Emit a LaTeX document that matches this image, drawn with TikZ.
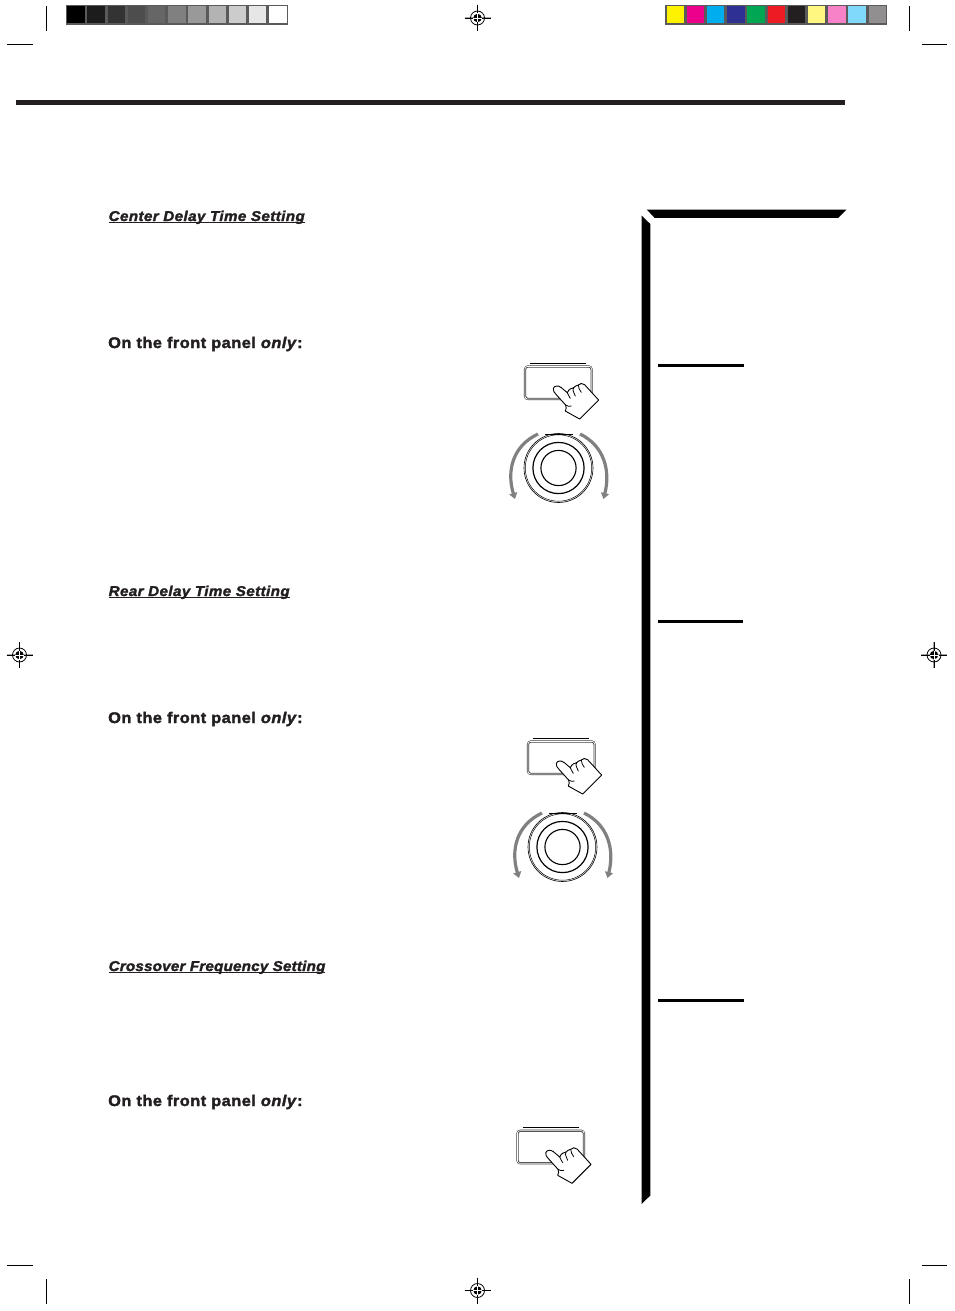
\documentclass[tikz,border=0pt]{standalone}
\usepackage{fontspec}
\setmainfont{Liberation Sans}
\usetikzlibrary{arrows.meta}
\definecolor{framegray}{HTML}{5A5A5A}
\definecolor{inkblack}{HTML}{231F20}
\definecolor{arrowgray}{HTML}{808080}
\tikzset{
  x=1pt,y=-1pt,
  headtext/.style={anchor=base west,inner sep=0pt,text=inkblack,font=\fontsize{14.2}{16}\selectfont\bfseries\itshape\addfontfeatures{LetterSpace=3,FakeStretch=1.065,FakeBold=2}},
  headtight/.style={anchor=base west,inner sep=0pt,text=inkblack,font=\fontsize{14.2}{16}\selectfont\bfseries\itshape\addfontfeatures{LetterSpace=1.7,FakeStretch=1.065,FakeBold=2}},
  paneltext/.style={anchor=base west,inner sep=0pt,text=inkblack,font=\fontsize{15.4}{18}\selectfont\bfseries\addfontfeatures{LetterSpace=3,FakeStretch=1.065,FakeBold=2}},
  crop/.style={draw=black,line width=0.9pt},
  rulebar/.style={fill=inkblack},
  shortrule/.style={fill=black},
  framebar/.style={fill=framegray},
  buttonpic/.pic={
    \draw[black,line width=0.9pt] (6,-2.5) -- (62,-2.5);
    \draw[line width=2.2pt,black!75,rounded corners=3pt] (0.7,0.7) rectangle (67.3,33.3);
    \draw[line width=0.7pt,white,rounded corners=2.5pt] (0.7,0.7) rectangle (67.3,33.3);
    % hand, given in 3x crop units
    \begin{scope}[x=0.3333pt,y=-0.3333pt,shift={(-102,-47)}]
    \filldraw[fill=white,draw=black,line width=0.9pt,line join=round]
      (225,183) -- (268,207) -- (325,150) -- (283,104)
      .. controls (277,99) and (268,99) .. (264,105)
      .. controls (259,106) and (253,109) .. (250,113)
      .. controls (244,113) and (235,118) .. (231,128)
      -- (212,112)
      .. controls (203,105) and (191,107) .. (189,116)
      .. controls (188,122) and (192,128) .. (198,134)
      -- (226,165)
      .. controls (229,172) and (228,176) .. (225,183) -- cycle;
    \draw[black,line width=0.8pt,line cap=round]
      (231,128) .. controls (233,134) and (237,139) .. (240,145)
      (248,120) .. controls (250,126) and (252,132) .. (255,138)
      (250,113) .. controls (248,116) and (248,118) .. (248,120)
      (264,105) .. controls (264,113) and (268,120) .. (273,127)
      (226,165) .. controls (232,169) and (238,170) .. (243,168);
    \end{scope}
  },
  knobpic/.pic={
    \draw[black,line width=0.9pt] (-13.5,-33.5) -- (14.5,-33.5);
    \draw[black,line width=0.6pt] (0,0) circle[radius=34.5];
    \draw[black,line width=0.5pt] (0,0) circle[radius=33.2];
    \draw[black,line width=1.2pt] (0,0) circle[radius=25.6];
    \draw[black,line width=1.1pt] (0,0) circle[radius=17.6];
    \draw[arrowgray,line width=3.2pt,-{Triangle[length=6pt,width=8pt]}]
      (-20.5,-34) .. controls (-46,-22) and (-52,3) .. (-43.5,31);
    \draw[arrowgray,line width=3.2pt,-{Triangle[length=6pt,width=8pt]}]
      (21.5,-34) .. controls (46,-22) and (52,3) .. (45,31);
  },
  regmark/.pic={
    \draw[black!35,line width=1.6pt] (0,-13) -- (0,13);
    \draw[black!35,line width=1.6pt] (-13,0) -- (13,0);
    \draw[black,line width=0.5pt] (-13,0) -- (13,0) (0,-13) -- (0,13);
    \fill[black] (0,0) circle[radius=4.2];
    \draw[white,line width=0.7pt] (-4.5,0) -- (4.5,0) (0,-4.5) -- (0,4.5);
    \draw[black,line width=0.8pt] (0,0) circle[radius=7];
  },
}
\begin{document}
\begin{tikzpicture}
\useasboundingbox (0,0) rectangle (954,1311);
\fill[white] (0,0) rectangle (954,1311);

% gray scale strip
\fill[framebar] (66,5) rectangle (288,25);
\foreach \a/\b/\c in {66.7/85/000000,87.3/105/1C1C1C,107.7/125/333333,128.3/145/4D4D4D,148.3/165/666666,168.3/186/808080,188.3/206/999999,209/226/B3B3B3,229/246/CCCCCC,249/266/E6E6E6,269/287.3/FFFFFF}{
  \definecolor{tmpc}{HTML}{\c}
  \fill[tmpc] (\a,6) rectangle (\b,23);
}
% colour strip
\fill[framebar] (665,5) rectangle (887,25);
\foreach \a/\b/\c in {667/684/FFF200,687/704/EC008C,707/724/00AEEF,727/745/2E3192,747/765/00A651,768/785/ED1C24,788/805/231F20,808/825/FFF77F,828/846/F782C8,848/866/80D8FA,869/886/918F8F}{
  \definecolor{tmpc}{HTML}{\c}
  \fill[tmpc] (\a,6) rectangle (\b,23);
}

% crop marks
\draw[crop] (46.5,6) -- (46.5,31);
\draw[crop] (7,44.5) -- (33,44.5);
\draw[crop] (909.5,6) -- (909.5,31);
\draw[crop] (922,44.5) -- (947,44.5);
\draw[crop] (7,1265.5) -- (33,1265.5);
\draw[crop] (46.5,1279) -- (46.5,1304);
\draw[crop] (922,1265.5) -- (947,1265.5);
\draw[crop] (909.5,1279) -- (909.5,1304);

% registration marks
\pic at (477.5,18) {regmark};
\pic at (19.5,655) {regmark};
\pic at (934,655) {regmark};
\pic at (477.5,1290.5) {regmark};

% top rule
\fill[rulebar] (16,100) rectangle (845,105);

% side frame
\fill[black] (646.7,209.5) -- (846.7,209.5) -- (838.3,217.8) -- (654.5,217.8) -- cycle;
\fill[black] (641.5,215.5) -- (650.3,224) -- (650.3,1195.5) -- (641.5,1204) -- cycle;

% short rules
\fill[shortrule] (658,364) rectangle (744,367);
\fill[shortrule] (658,619.5) rectangle (743,622.5);
\fill[shortrule] (658,999) rectangle (744,1002);

% headings
\node[headtext] (h1) at (108.5,221) {Center Delay Time Setting};
\node[headtext] (h2) at (108.5,596) {Rear Delay Time Setting};
\node[headtight] (h3) at (108.5,971) {Crossover Frequency Setting};
\draw[inkblack,line width=1pt] (108.5,222.5) -- (304.5,222.5);
\draw[inkblack,line width=1pt] (108.5,597.5) -- (289.5,597.5);
\draw[inkblack,line width=1pt] (108.5,972.5) -- (325,972.5);

\node[paneltext] (p1) at (108,348) {On the front panel \textit{only}:};
\node[paneltext] (p2) at (108,723) {On the front panel \textit{only}:};
\node[paneltext] (p3) at (108,1106) {On the front panel \textit{only}:};

% buttons and knobs
\pic at (524.3,365.7) {buttonpic};
\pic at (558.5,468) {knobpic};
\pic at (527.3,740.7) {buttonpic};
\pic at (562.5,847) {knobpic};
\pic at (516.7,1130) {buttonpic};
\end{tikzpicture}
\end{document}
